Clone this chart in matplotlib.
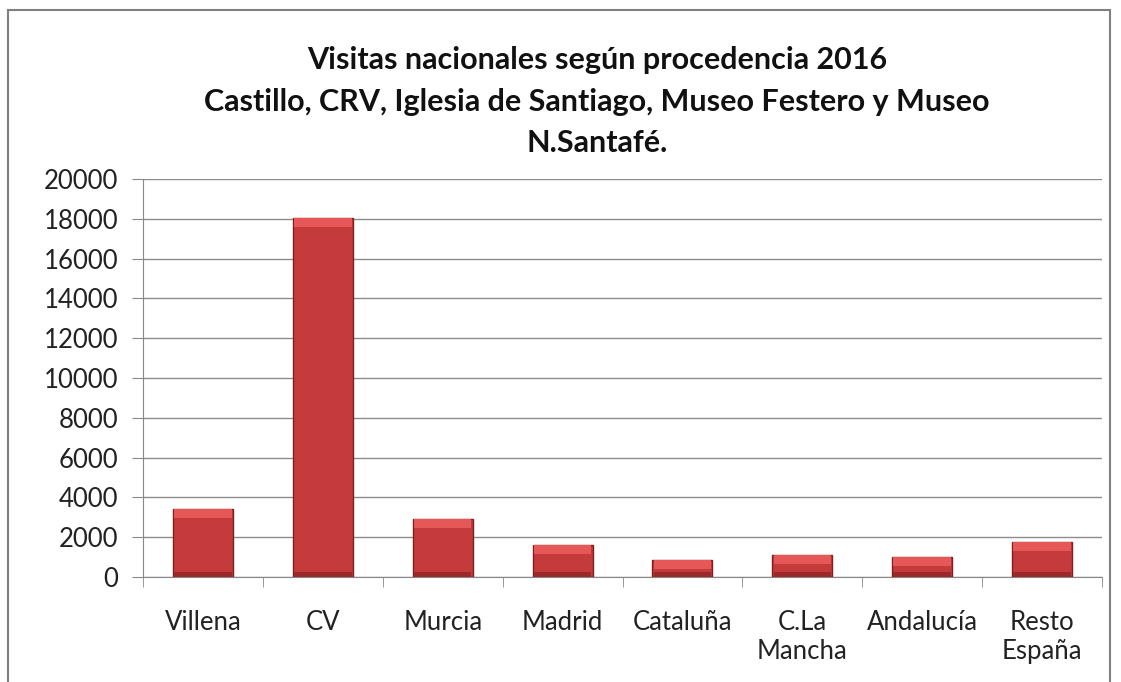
import numpy as np
import matplotlib.pyplot as plt
from matplotlib.patches import Rectangle

plt.rcParams['font.family'] = ['Lato', 'DejaVu Sans']

# data
categorias = ["Villena", "CV", "Murcia", "Madrid", "Cataluña",
              "C.La\nMancha", "Andalucía", "Resto\nEspaña"]
visitas = [3430, 18030, 2920, 1610, 860, 1110, 990, 1765]

titulo = ["Visitas nacionales según procedencia 2016",
          "Castillo, CRV, Iglesia de Santiago, Museo Festero y Museo",
          "N.Santafé."]

fig = plt.figure(figsize=(11.21, 6.82), dpi=100)
ax = fig.add_axes([143/1121, 1 - 577/682, 959/1121, 398/682])

x = np.arange(len(categorias))
top_band = 450
bot_band = 250
ax.bar(x, visitas, width=0.5, color='#c53a3b', edgecolor='#7d1f1f', linewidth=1.0, zorder=3)
# bevel effect: lighter top, darker bottom
ax.bar(x, [top_band] * len(visitas), bottom=[v - top_band for v in visitas], width=0.48,
       color='#e65757', edgecolor='none', zorder=4)
ax.bar(x, [bot_band] * len(visitas), width=0.48, color='#9a2a2a', edgecolor='none', zorder=4)

ax.set_xlim(-0.5, len(categorias) - 0.5)
ax.set_ylim(0, 20000)
ax.set_yticks(np.arange(0, 20001, 2000))
ax.set_xticks(x)
ax.set_xticklabels(categorias, fontsize=18.5, color='#222222', linespacing=1.2)
ax.tick_params(axis='y', labelsize=18.5, labelcolor='#222222', length=8, color='#888888', pad=10)
ax.tick_params(axis='x', length=0, pad=24)
# category separators
ax.set_xticks(np.arange(-0.5, len(categorias), 1), minor=True)
ax.tick_params(axis='x', which='minor', length=7, color='#888888')

ax.grid(axis='y', color='#8c8c8c', linewidth=1.0, zorder=0)
for s in ['top', 'right']:
    ax.spines[s].set_visible(False)
ax.spines['left'].set_color('#888888')
ax.spines['bottom'].set_color('#888888')

for linea, cy in zip(titulo, [60, 102, 143]):
    fig.text(597/1121, 1 - cy/682, linea, ha='center', va='center', fontsize=22,
             fontweight='bold', color='#111111')

fig.patches.append(Rectangle((8/1121, -0.05), 1102/1121, 1.05 - 10/682,
                             transform=fig.transFigure, fill=False,
                             edgecolor='#808080', linewidth=1.5))

fig.savefig('out.png', dpi=100)
